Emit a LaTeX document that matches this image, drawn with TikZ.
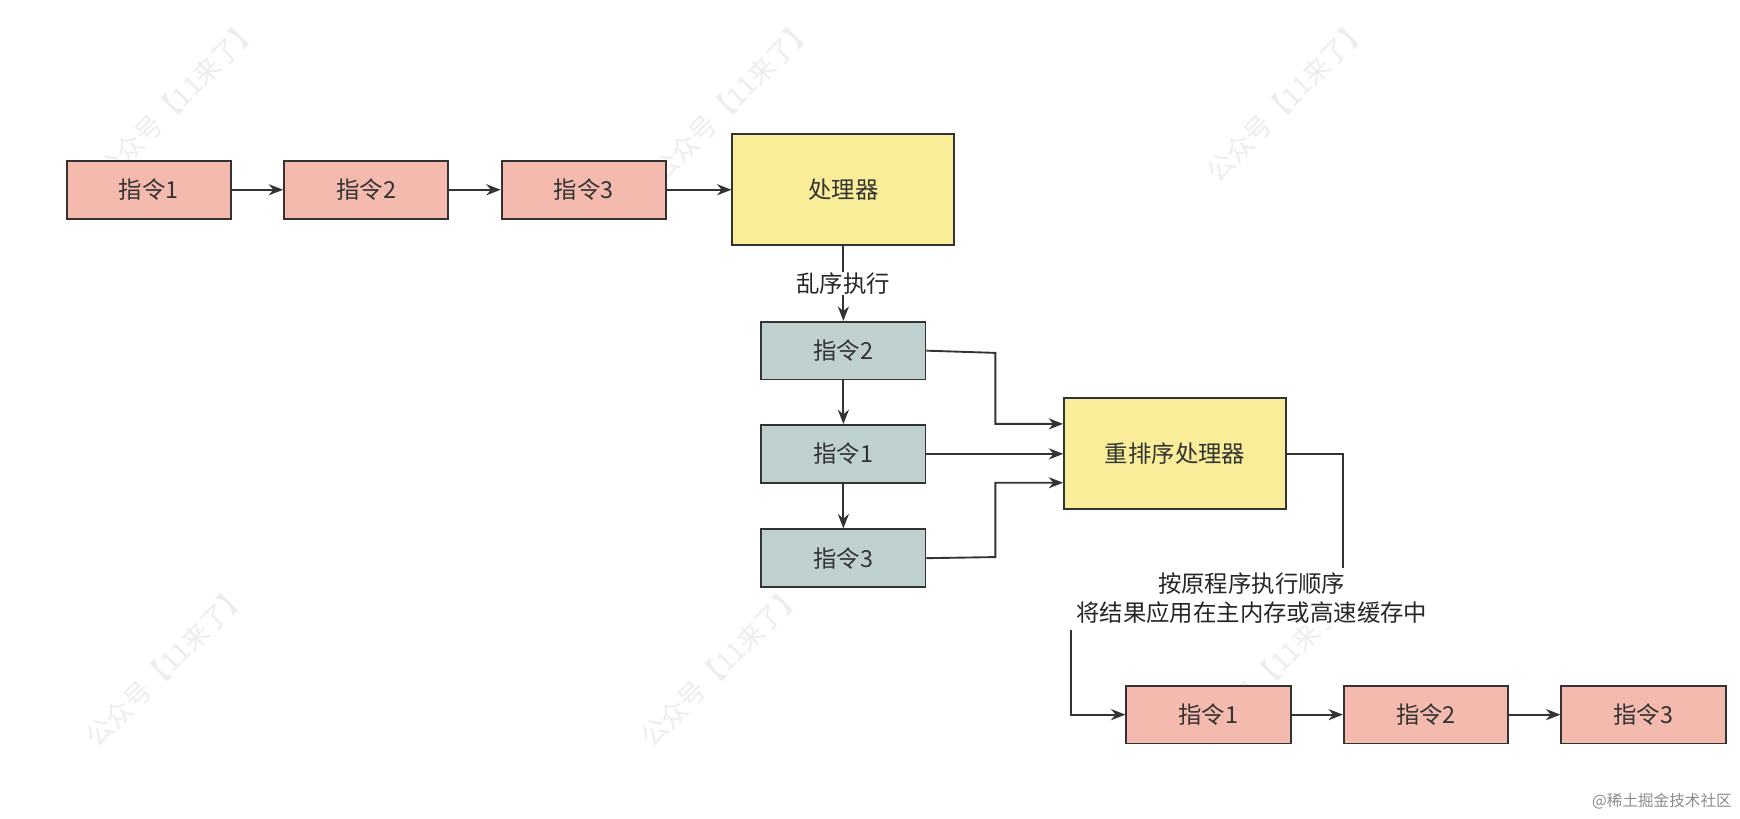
\documentclass[tikz,border=0pt]{standalone}
\usepackage{fontspec}
\setmainfont{Noto Sans CJK SC}
\usetikzlibrary{arrows.meta}
\begin{document}
\begin{tikzpicture}[x=0.05cm,y=-0.05cm,
 box/.style={draw=black!80,line width=2.4pt,minimum width=148*0.05cm,minimum height=52*0.05cm,font=\fontsize{30}{36}\selectfont,text=black!80},
 pk/.style={box,fill=pinkc},
 gy/.style={box,fill=grayc},
 yl/.style={box,fill=yelc,minimum width=200*0.05cm,minimum height=100*0.05cm},
 ln/.style={draw=black!80,line width=2.4pt},
 ar/.style={ln,-{Stealth[length=0.65cm,width=0.5cm]}},
 lb/.style={font=\fontsize{30}{38}\selectfont,text=black!85,fill=white,inner sep=1pt},
 wm/.style={font=\fontsize{34}{40}\selectfont,text=black!7,rotate=45}]
\definecolor{pinkc}{HTML}{F4BAAE}
\definecolor{grayc}{HTML}{BED0CF}
\definecolor{yelc}{HTML}{F9ED99}
\useasboundingbox[fill=white] (0,0) rectangle (1568,738);
\foreach \p in {(160,90),(660,90),(1160,90),(150,600),(650,600),(1150,600)} \node[wm] at \p {公众号【11来了】};
\node[pk] (a1) at (134,171) {指令1};
\node[pk] (a2) at (330,171) {指令2};
\node[pk] (a3) at (526,171) {指令3};
\node[yl] (p) at (760,171) {处理器};
\node[gy] (g2) at (760,316) {指令2};
\node[gy] (g1) at (760,409) {指令1};
\node[gy] (g3) at (760,503) {指令3};
\node[yl] (r) at (1059,409) {重排序处理器};
\node[pk] (b1) at (1089,644) {指令1};
\node[pk] (b2) at (1285,644) {指令2};
\node[pk] (b3) at (1481,644) {指令3};
\draw[ar] (a1) -- (a2); \draw[ar] (a2) -- (a3); \draw[ar] (a3) -- (p);
\draw[ar] (p) -- node[lb]{乱序执行} (g2);
\draw[ar] (g2) -- (g1); \draw[ar] (g1) -- (g3);
\draw[ar] (g2.east) -- (897,318) -- (897,382) -- (958,382);
\draw[ar] (g1) -- (r);
\draw[ar] (g3.east) -- (897,502) -- (897,435) -- (958,435);
\coordinate (t1) at (1210,512);
\draw[ln] (r.east) -- (1210,409) -- (t1);
\node[lb,align=center] (t) at (1128,539) {按原程序执行顺序\\将结果应用在主内存或高速缓存中};
\draw[ar] (965,568) -- (965,644) -- (b1.west);
\draw[ar] (b1) -- (b2); \draw[ar] (b2) -- (b3);
\node[font=\fontsize{20}{24}\selectfont,text=black!45,anchor=east] at (1563,722) {@稀土掘金技术社区};
\end{tikzpicture}
\end{document}
